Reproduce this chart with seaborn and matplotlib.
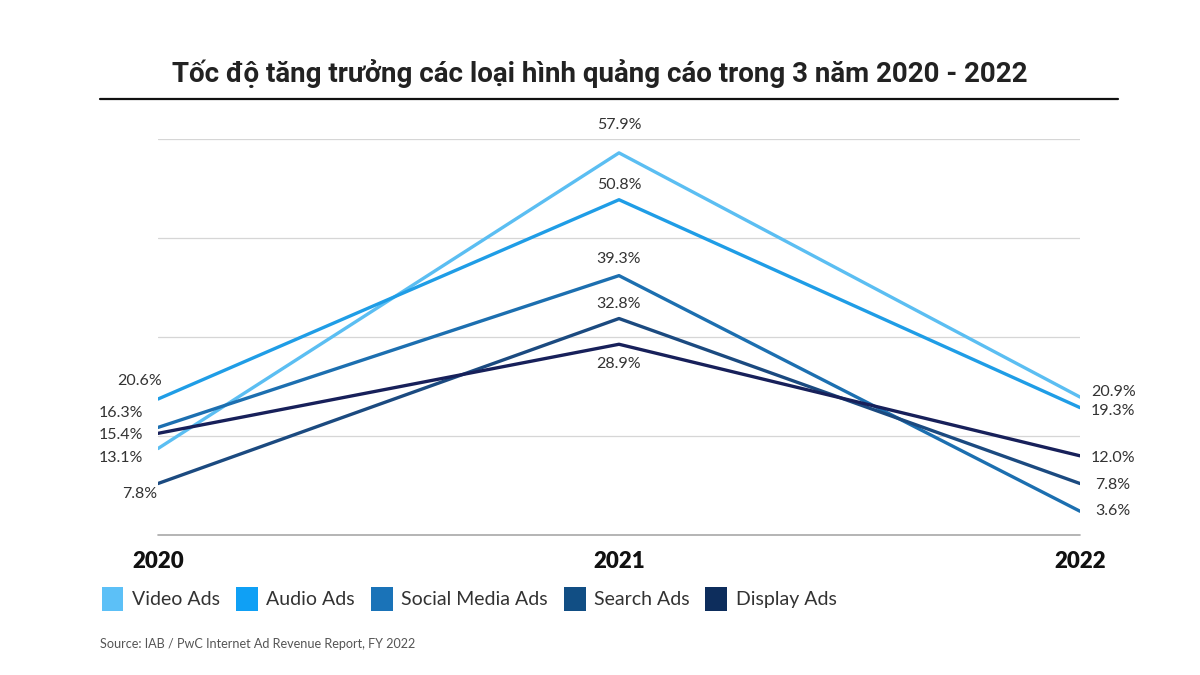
import pandas as pd
import seaborn as sns
import matplotlib.pyplot as plt
from matplotlib.patches import Patch

# data
years = [2020, 2021, 2022]
series = ["Video Ads", "Audio Ads", "Social Media Ads", "Search Ads", "Display Ads"]
video = [13.1, 57.9, 20.9]
audio = [20.6, 50.8, 19.3]
social = [16.3, 39.3, 3.6]
search = [7.8, 32.8, 7.8]
display = [15.4, 28.9, 12.0]

title = "Tốc độ tăng trưởng các loại hình quảng cáo trong 3 năm 2020 - 2022"
source = "Source: IAB / PwC Internet Ad Revenue Report, FY 2022"

line_colors = ["#5bbef2", "#1f9de6", "#1c6fb0", "#1b4a80", "#17205a"]
legend_colors = ["#5cc0f7", "#0fa0f5", "#1a73b8", "#114e84", "#0d2d5c"]

# label offsets (pixels) per series for each year
offsets = {
    "Video Ads": [(-15, -9), (0, 28), (11, 5)],
    "Audio Ads": [(4, 18), (0, 15), (11, -3)],
    "Social Media Ads": [(-15, 14), (0, 17), (15, 0)],
    "Search Ads": [(-1, -10), (0, 15), (15, -1)],
    "Display Ads": [(-15, -2), (0, -20), (11, -2)],
}

df = pd.DataFrame({
    "year": years * len(series),
    "series": [s for s in series for _ in years],
    "value": video + audio + social + search + display,
})
df["x"] = df["year"] - years[0]

sns.set_style("white")
plt.rcParams["font.family"] = ["Lato", "Noto Sans", "DejaVu Sans"]

fig = plt.figure(figsize=(12, 6.75), dpi=100)
ax = fig.add_axes([158 / 1200, 1 - 535 / 675, (1080 - 158) / 1200, (535 - 139) / 675])

sns.lineplot(
    data=df, x="x", y="value", hue="series", hue_order=series,
    palette=dict(zip(series, line_colors)), linewidth=2.4, legend=False,
    ax=ax, zorder=3,
)

ax.set_xlim(0, 2)
ax.set_ylim(0, 60)
ax.set_yticks([15, 30, 45, 60])
ax.yaxis.grid(True, color="#d6d6d6", linewidth=0.9)
ax.axhline(0, color="#a8a8a8", linewidth=1.2, zorder=1, clip_on=False)
ax.tick_params(axis="y", left=False, labelleft=False)
ax.set_xticks([0, 1, 2])
ax.set_xticklabels([str(y) for y in years], fontsize=16, fontweight="heavy",
                   color="#111111")
ax.tick_params(axis="x", bottom=False, pad=8)
ax.set_xlabel("")
ax.set_ylabel("")
for sp in ax.spines.values():
    sp.set_visible(False)

# value labels
for _, row in df.iterrows():
    i = int(row["x"])
    dx, dy = offsets[row["series"]][i]
    ha = ["right", "center", "left"][i]
    ax.annotate(f"{row['value']:.1f}%", (row["x"], row["value"]),
                xytext=(dx, dy), textcoords="offset pixels",
                ha=ha, va="center", fontsize=11.5, color="#333333",
                annotation_clip=False)

# title and rule
fig.text(0.5, 1 - 73 / 675, title, ha="center", va="center", fontsize=20,
         fontweight="bold", color="#222222", family=["Roboto", "DejaVu Sans"])
fig.add_artist(plt.Line2D([100 / 1200, 1118 / 1200], [1 - 99 / 675] * 2,
                          color="#111111", linewidth=1.6))

# legend
handles = [Patch(facecolor=c, edgecolor="none") for c in legend_colors]
fig.legend(handles, series, loc="center left", bbox_to_anchor=(84 / 1200, 1 - 599 / 675),
           ncol=5, frameon=False, fontsize=14, handlelength=1.13, handleheight=1.5,
           handletextpad=0.45, columnspacing=0.8, labelcolor="#333333")

fig.text(100 / 1200, 1 - 644 / 675, source, ha="left", va="center", fontsize=9.1,
         color="#555555")

fig.savefig("out.png", dpi=100)
